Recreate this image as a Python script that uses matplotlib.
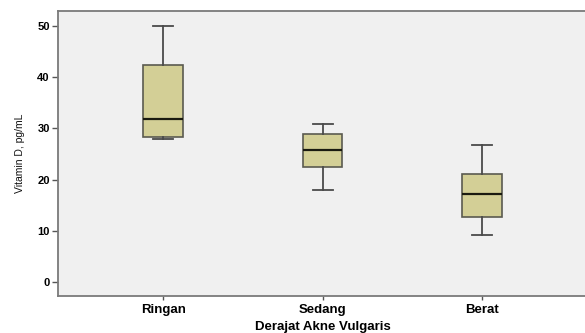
import matplotlib
matplotlib.use("Agg")
import matplotlib.pyplot as plt

# vitamin D levels (pg/mL) per acne severity group
groups = ["Ringan", "Sedang", "Berat"]
whisker_low = [27.9, 18.1, 9.3]
q1 = [28.4, 22.5, 12.7]
median = [31.8, 25.85, 17.3]
q3 = [42.4, 28.9, 21.05]
whisker_high = [50.0, 30.8, 26.8]

plt.rcParams["font.family"] = ["Liberation Sans", "DejaVu Sans"]

stats = []
for i, name in enumerate(groups):
    stats.append({
        "label": name,
        "whislo": whisker_low[i],
        "q1": q1[i],
        "med": median[i],
        "q3": q3[i],
        "whishi": whisker_high[i],
        "fliers": [],
    })

fig = plt.figure(figsize=(5.85, 3.33), dpi=100)
ax = fig.add_axes([0.0983, 0.111, 0.907, 0.856])
ax.set_facecolor("#f0f0f0")

ax.bxp(
    stats,
    positions=[1, 2, 3],
    widths=0.25,
    patch_artist=True,
    showfliers=False,
    boxprops=dict(facecolor="#d3cf96", edgecolor="#5a5a50", linewidth=1.2),
    medianprops=dict(color="#1a1a10", linewidth=1.6),
    whiskerprops=dict(color="#4a4a4a", linewidth=1.3),
    capprops=dict(color="#4a4a4a", linewidth=1.3),
    capwidths=0.125,
)

ax.set_xlim(0.336, 3.667)
ax.set_ylim(-2.66, 52.9)
ax.set_yticks([0, 10, 20, 30, 40, 50])
ax.set_xticks([1, 2, 3])
ax.set_xticklabels(groups, fontsize=9.5, fontweight="bold")
for lab in ax.get_yticklabels():
    lab.set_fontsize(8)
    lab.set_fontweight("bold")

for sp in ax.spines.values():
    sp.set_color("#7a7a7a")
    sp.set_linewidth(1.3)
ax.tick_params(axis="y", length=4, width=1, color="#555555", pad=1.5)
ax.tick_params(axis="x", length=3, width=1, color="#555555", pad=3)

ax.set_ylabel("Vitamin D, pg/mL", fontsize=7.5, labelpad=9, color="#111111")
ax.set_xlabel("Derajat Akne Vulgaris", fontsize=9.5, fontweight="bold", labelpad=3)

fig.savefig("out.png", dpi=100, facecolor="white")
